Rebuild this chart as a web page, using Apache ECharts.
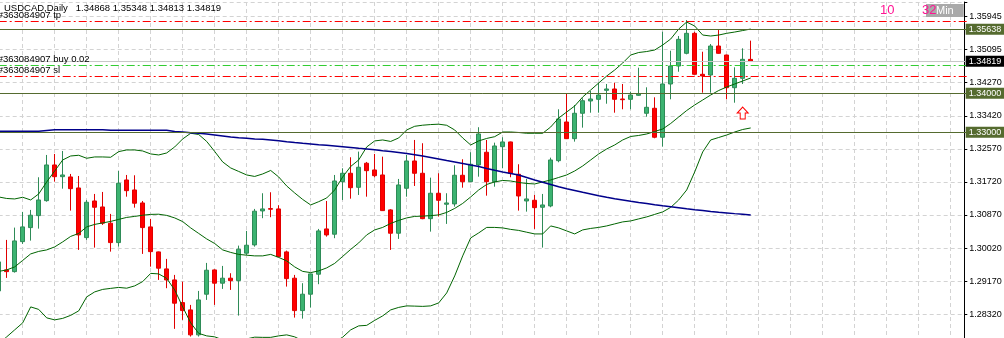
<!DOCTYPE html>
<html>
<head>
<meta charset="utf-8">
<script src="https://cdn.jsdelivr.net/npm/echarts@6.0.0/dist/echarts.min.js"></script>
<style>
html, body { margin: 0; padding: 0; background: #fff; }
#main { width: 1004px; height: 338px; }
</style>
</head>
<body>
<div id="main"></div>
<script>
var FONT = "'Liberation Sans', Arial, sans-serif";

// header + axis text
var SYMBOL = 'USDCAD,Daily';
var HEADER = ['1.34868', '1.35348', '1.34813', '1.34819'];
var Y_LABELS = ['1.28320', '1.29170', '1.30020', '1.30870', '1.31720', '1.32570', '1.33420', '1.34270', '1.35095', '1.35945'];
var ORDER_ID = '#363084907';

// the price scale: ticks every STEP, counted from BASE (so min = 0 is a multiple)
var STEP = 0.0084664;
var BASE = 1.274974;
var TOP_OFF = 0.088396;

// daily candles, oldest first
var OPEN = [1.28940, 1.29478, 1.29434, 1.30202, 1.30561, 1.30868, 1.31251, 1.32165, 1.31865, 1.31858,
  1.31576, 1.30305, 1.31243, 1.31090, 1.30674, 1.30177, 1.31781, 1.31525, 1.31192, 1.30579,
  1.29939, 1.29504, 1.29222, 1.28641, 1.28454, 1.27815, 1.28856, 1.29478, 1.29138, 1.29266,
  1.29204, 1.29906, 1.30118, 1.30988, 1.31047, 1.31039, 1.29939, 1.29266, 1.28436, 1.28856,
  1.29368, 1.30527, 1.30392, 1.31737, 1.31952, 1.31593, 1.32209, 1.32037, 1.31909, 1.31014,
  1.30417, 1.31568, 1.32267, 1.31952, 1.30790, 1.31441, 1.31159, 1.31167, 1.31901, 1.31737,
  1.32165, 1.32490, 1.31737, 1.32633, 1.32754, 1.31927, 1.31243, 1.31261, 1.31082, 1.31116,
  1.32275, 1.33265, 1.32838, 1.33488, 1.33803, 1.33846, 1.34076, 1.34110, 1.33854, 1.33846,
  1.33948, 1.33488, 1.33616, 1.32874, 1.34238, 1.34698, 1.35023, 1.35535, 1.34486, 1.34468,
  1.35210, 1.34980, 1.34143, 1.34383, 1.34868];
var CLOSE = [1.29683, 1.29434, 1.30220, 1.30579, 1.30878, 1.31269, 1.32165, 1.31865, 1.31909, 1.31558,
  1.30374, 1.31210, 1.31082, 1.30674, 1.30177, 1.31697, 1.31507, 1.31185, 1.30561, 1.29946,
  1.29522, 1.29222, 1.28626, 1.28436, 1.27815, 1.28710, 1.29470, 1.29138, 1.29266, 1.29204,
  1.30008, 1.30110, 1.30981, 1.31039, 1.31032, 1.29818, 1.29255, 1.28436, 1.28856, 1.29376,
  1.30476, 1.30374, 1.31755, 1.31952, 1.31583, 1.32106, 1.32019, 1.31891, 1.30996, 1.30417,
  1.31653, 1.32267, 1.31952, 1.30790, 1.31441, 1.31261, 1.31192, 1.31901, 1.31737, 1.32183,
  1.32959, 1.31737, 1.32651, 1.32754, 1.31952, 1.31371, 1.31295, 1.31072, 1.31141, 1.32293,
  1.33342, 1.32838, 1.33488, 1.33810, 1.33854, 1.33956, 1.34110, 1.33846, 1.33836, 1.33956,
  1.33982, 1.33641, 1.32874, 1.34238, 1.34698, 1.35381, 1.35535, 1.34486, 1.34443, 1.35210,
  1.35023, 1.34143, 1.34383, 1.34869, 1.34819];
var LOW = [1.28889, 1.29273, 1.29409, 1.30144, 1.30228, 1.30535, 1.31225, 1.31737, 1.31558, 1.30996,
  1.29990, 1.30246, 1.30049, 1.30630, 1.29946, 1.30074, 1.31353, 1.31072, 1.29888, 1.29562,
  1.29222, 1.29010, 1.27969, 1.28199, 1.27772, 1.27772, 1.28710, 1.28582, 1.28992, 1.28966,
  1.28308, 1.29862, 1.30074, 1.30802, 1.30827, 1.29808, 1.29051, 1.28257, 1.28231, 1.28513,
  1.29112, 1.30330, 1.30290, 1.31269, 1.31302, 1.31397, 1.31353, 1.31850, 1.30988, 1.29990,
  1.30272, 1.31353, 1.31627, 1.30776, 1.30458, 1.30843, 1.30656, 1.31098, 1.31583, 1.31728,
  1.31865, 1.31379, 1.31609, 1.32080, 1.31850, 1.30996, 1.30970, 1.30527, 1.30049, 1.31082,
  1.32234, 1.32828, 1.32762, 1.33120, 1.33503, 1.33503, 1.33733, 1.33503, 1.33590, 1.33590,
  1.33931, 1.33401, 1.32848, 1.32633, 1.33846, 1.34552, 1.34997, 1.34478, 1.34015, 1.34015,
  1.35013, 1.33846, 1.33759, 1.34238, 1.34813];
var HIGH = [1.29760, 1.30246, 1.30561, 1.30963, 1.31014, 1.31850, 1.32421, 1.32447, 1.32523, 1.31935,
  1.31883, 1.31269, 1.31423, 1.31474, 1.30912, 1.32011, 1.31909, 1.31901, 1.31243, 1.30784,
  1.29948, 1.29760, 1.29350, 1.29178, 1.28582, 1.28940, 1.29657, 1.29493, 1.29580, 1.29393,
  1.30100, 1.30476, 1.31039, 1.31441, 1.31466, 1.31133, 1.29972, 1.29350, 1.29138, 1.29383,
  1.30527, 1.31243, 1.31909, 1.32080, 1.32362, 1.32507, 1.32242, 1.32447, 1.32378, 1.31032,
  1.31807, 1.32421, 1.32805, 1.32721, 1.31840, 1.31952, 1.31441, 1.32157, 1.32311, 1.32490,
  1.33131, 1.32805, 1.32736, 1.32874, 1.32763, 1.32183, 1.31807, 1.31397, 1.31423, 1.32352,
  1.33590, 1.34000, 1.33700, 1.33872, 1.34058, 1.34271, 1.34238, 1.34271, 1.34238, 1.34041,
  1.34655, 1.34153, 1.33897, 1.35576, 1.35090, 1.35466, 1.35875, 1.35576, 1.35064, 1.35261,
  1.35619, 1.34988, 1.34665, 1.35151, 1.35348];

// Bollinger bands and the long moving average, one value per candle
var BB_UP = [1.31346, 1.31307, 1.31295, 1.31338, 1.31269, 1.31423, 1.31730, 1.32011, 1.32293, 1.32395,
  1.32413, 1.32336, 1.32370, 1.32370, 1.32362, 1.32507, 1.32549, 1.32549, 1.32523, 1.32447,
  1.32421, 1.32472, 1.32626, 1.32831, 1.32976, 1.32945, 1.32767, 1.32510, 1.32242, 1.32088,
  1.31999, 1.31909, 1.31871, 1.31935, 1.32024, 1.31858, 1.31627, 1.31448, 1.31282, 1.31141,
  1.31225, 1.31320, 1.31525, 1.31858, 1.32127, 1.32293, 1.32626, 1.32780, 1.32805, 1.32767,
  1.32856, 1.33061, 1.33155, 1.33183, 1.33199, 1.33209, 1.33181, 1.33061, 1.32856, 1.32677,
  1.32780, 1.32844, 1.32889, 1.33009, 1.33009, 1.32996, 1.32976, 1.32976, 1.32976, 1.33137,
  1.33367, 1.33521, 1.33674, 1.33905, 1.34084, 1.34263, 1.34442, 1.34596, 1.34775, 1.34980,
  1.35044, 1.35069, 1.35108, 1.35236, 1.35389, 1.35645, 1.35824, 1.35722, 1.35491, 1.35466,
  1.35491, 1.35535, 1.35568, 1.35606, 1.35645];
var BB_MID = [1.29440, 1.29478, 1.29555, 1.29721, 1.29888, 1.29952, 1.29990, 1.30067, 1.30195, 1.30336,
  1.30412, 1.30579, 1.30643, 1.30681, 1.30720, 1.30771, 1.30822, 1.30848, 1.30878, 1.30899,
  1.30904, 1.30873, 1.30809, 1.30715, 1.30553, 1.30412, 1.30271, 1.30154, 1.29990, 1.29926,
  1.29875, 1.29855, 1.29837, 1.29837, 1.29875, 1.29798, 1.29709, 1.29555, 1.29440, 1.29409,
  1.29453, 1.29530, 1.29645, 1.29824, 1.30003, 1.30169, 1.30374, 1.30502, 1.30566, 1.30668,
  1.30745, 1.30809, 1.30848, 1.30855, 1.30868, 1.30886, 1.30950, 1.31052, 1.31180, 1.31346,
  1.31525, 1.31666, 1.31730, 1.31768, 1.31755, 1.31717, 1.31691, 1.31679, 1.31730, 1.31781,
  1.31845, 1.31909, 1.32011, 1.32139, 1.32293, 1.32447, 1.32574, 1.32677, 1.32805, 1.32894,
  1.32920, 1.32958, 1.33022, 1.33086, 1.33227, 1.33393, 1.33559, 1.33700, 1.33828, 1.33956,
  1.34071, 1.34161, 1.34238, 1.34315, 1.34391];
var BB_LOW = [1.27585, 1.27764, 1.27943, 1.28122, 1.28531, 1.28467, 1.28250, 1.28199, 1.28237, 1.28314,
  1.28429, 1.28787, 1.28915, 1.28979, 1.29005, 1.29030, 1.29010, 1.29069, 1.29179, 1.29389,
  1.29376, 1.29261, 1.28966, 1.28531, 1.28122, 1.27853, 1.27789, 1.27764, 1.27687, 1.27636,
  1.27636, 1.27712, 1.27756, 1.27751, 1.27751, 1.27789, 1.27815, 1.27764, 1.27661, 1.27559,
  1.27508, 1.27533, 1.27636, 1.27756, 1.27943, 1.28045, 1.28058, 1.28186, 1.28301, 1.28454,
  1.28518, 1.28557, 1.28551, 1.28544, 1.28557, 1.28633, 1.28889, 1.29324, 1.29837, 1.30297,
  1.30425, 1.30566, 1.30566, 1.30553, 1.30515, 1.30489, 1.30443, 1.30399, 1.30399, 1.30604,
  1.30553, 1.30476, 1.30399, 1.30502, 1.30540, 1.30566, 1.30604, 1.30656, 1.30707, 1.30732,
  1.30784, 1.30835, 1.30899, 1.30963, 1.31078, 1.31269, 1.31525, 1.31986, 1.32498, 1.32805,
  1.32868, 1.32932, 1.33009, 1.33073, 1.33112];
var MA = [1.33028, 1.33028, 1.33028, 1.33028, 1.33028, 1.33028, 1.33048, 1.33066, 1.33066, 1.33066,
  1.33066, 1.33066, 1.33066, 1.33066, 1.33053, 1.33053, 1.33053, 1.33053, 1.33053, 1.33053,
  1.33053, 1.33053, 1.33022, 1.33009, 1.32991, 1.32976, 1.32958, 1.32933, 1.32907, 1.32881,
  1.32863, 1.32848, 1.32830, 1.32823, 1.32805, 1.32787, 1.32762, 1.32741, 1.32721, 1.32703,
  1.32685, 1.32670, 1.32652, 1.32633, 1.32613, 1.32592, 1.32575, 1.32557, 1.32531, 1.32511,
  1.32485, 1.32459, 1.32429, 1.32395, 1.32357, 1.32319, 1.32280, 1.32242, 1.32204, 1.32165,
  1.32127, 1.32076, 1.32029, 1.31986, 1.31948, 1.31909, 1.31845, 1.31781, 1.31722, 1.31666,
  1.31609, 1.31558, 1.31512, 1.31466, 1.31423, 1.31379, 1.31338, 1.31302, 1.31269, 1.31236,
  1.31205, 1.31179, 1.31149, 1.31123, 1.31098, 1.31072, 1.31046, 1.31021, 1.31001, 1.30975,
  1.30955, 1.30937, 1.30919, 1.30904, 1.30886];

// horizontal levels
var LEVELS = [1.35638, 1.34000, 1.33000];
var BID = 1.34819;
var TP = 1.35843;
var BUY = 1.34716;
var SL = 1.34435;
var ARROW_AT = ['93', 1.33495];

// empty bars to the right of the last candle
var CATS = [];
for (var i = 0; i < 122; i++) CATS.push(String(i));

function off(v) { return +(v - BASE).toFixed(6); }

var candles = OPEN.map(function (o, i) {
  return [off(o), off(CLOSE[i]), off(LOW[i]), off(HIGH[i])];
});

function band(arr, color, width) {
  return {
    type: 'line',
    data: arr.map(off),
    symbol: 'none',
    silent: true,
    lineStyle: { color: color, width: width }
  };
}

function orderLine(price, color, text) {
  return {
    yAxis: off(price),
    lineStyle: { color: color, type: [8, 3, 2, 3], width: 1 },
    label: {
      show: true, position: 'insideStartTop', formatter: text, distance: [-1, 1],
      color: '#000', fontSize: 9.5, fontFamily: FONT
    }
  };
}

function boxLine(price, color, lineColor, text) {
  return {
    yAxis: off(price),
    lineStyle: { color: lineColor, type: 'solid', width: 1 },
    label: {
      show: true, position: 'end', formatter: text, distance: -1,
      backgroundColor: color, color: '#fff', padding: [1, 3, 1, 3],
      fontSize: 9, fontFamily: FONT
    }
  };
}

var myChart = echarts.init(document.getElementById('main'));

myChart.setOption({
  animation: false,
  backgroundColor: '#fff',
  title: [
    {
      text: SYMBOL + '   ' + HEADER.join(' '),
      left: 4, top: 3, padding: 0,
      textStyle: { fontSize: 9.5, fontWeight: 'normal', color: '#000', fontFamily: FONT }
    },
    {
      text: 'Min', left: 926, top: 4, padding: [0, 10, 0, 10],
      backgroundColor: '#a9a9a9',
      textStyle: { fontSize: 11, lineHeight: 13, fontWeight: 'normal', color: '#fff', fontFamily: FONT }
    },
    {
      text: '10', left: 880, top: 4, padding: 0,
      textStyle: { fontSize: 13, fontWeight: 'normal', color: '#ff1493', fontFamily: FONT }
    },
    {
      text: '32', left: 922, top: 4, padding: 0,
      textStyle: { fontSize: 13, fontWeight: 'normal', color: '#ff1493', fontFamily: FONT }
    }
  ],
  grid: {
    left: -1.3, right: 37.3, top: 2, bottom: -9.27,
    outerBoundsMode: 'none'
  },
  xAxis: {
    type: 'category',
    data: CATS,
    boundaryGap: false,
    position: 'top',
    axisLine: { show: true, lineStyle: { color: '#000', width: 1 } },
    axisTick: { show: false },
    axisLabel: { show: false },
    splitLine: {
      show: true,
      interval: function (idx) { return idx % 4 === 3; },
      lineStyle: { color: '#d3d3d3', type: [4, 3] }
    }
  },
  yAxis: {
    type: 'value',
    position: 'right',
    offset: -2.4,
    min: 0,
    max: TOP_OFF,
    interval: STEP,
    axisLine: { show: true, lineStyle: { color: '#000', width: 1 } },
    axisTick: { show: true, length: 3, lineStyle: { color: '#000' } },
    axisLabel: {
      fontSize: 9, fontFamily: FONT, color: '#000', margin: 5,
      formatter: function (v) {
        var n = v / STEP;
        var k = Math.round(n);
        if (Math.abs(n - k) > 0.01) return '';
        return Y_LABELS[k - 1] || '';
      }
    },
    splitLine: { show: true, lineStyle: { color: '#d3d3d3', type: [4, 3] } }
  },
  series: [
    {
      type: 'candlestick',
      data: candles,
      barWidth: 5,
      itemStyle: {
        color: '#3cb371', color0: '#ff0000',
        borderColor: '#2e8b57', borderColor0: '#e00000', borderWidth: 1
      },
      markLine: {
        silent: true,
        symbol: ['none', 'none'],
        precision: 6,
        animation: false,
        data: [
          orderLine(TP, '#ff0000', ORDER_ID + ' tp'),
          boxLine(LEVELS[0], '#556b2f', '#556b2f', '1.35638'),
          boxLine(BID, '#000000', '#c8c8c8', '1.34819'),
          orderLine(BUY, '#32cd32', ORDER_ID + ' buy 0.02'),
          orderLine(SL, '#ff0000', ORDER_ID + ' sl'),
          boxLine(LEVELS[1], '#556b2f', '#556b2f', '1.34000'),
          boxLine(LEVELS[2], '#556b2f', '#556b2f', '1.33000')
        ]
      },
      markPoint: {
        silent: true,
        symbol: 'path://M5.5,0 L11,6 L8,6 L8,12 L3,12 L3,6 L0,6 Z',
        symbolSize: [11, 12],
        itemStyle: { color: '#fff', borderColor: '#ff0000', borderWidth: 1 },
        label: { show: false },
        data: [{ coord: [ARROW_AT[0], off(ARROW_AT[1])] }]
      }
    },
    band(BB_UP, '#006400', 1),
    band(BB_MID, '#006400', 1),
    band(BB_LOW, '#006400', 1),
    band(MA, '#00008b', 1.5)
  ]
});
</script>
</body>
</html>
